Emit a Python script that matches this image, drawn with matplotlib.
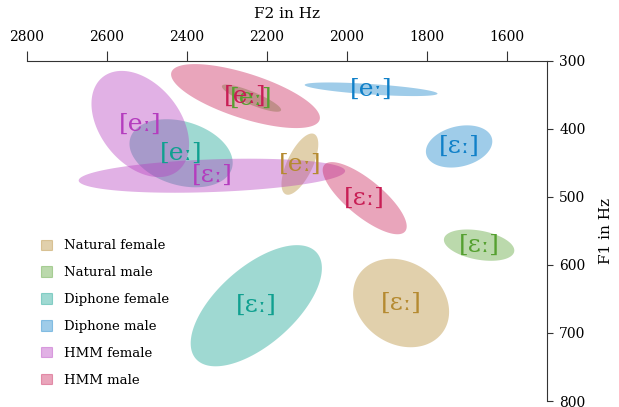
import matplotlib
matplotlib.use('Agg')
import matplotlib.pyplot as plt
from matplotlib.patches import Patch
import numpy as np

plt.rcParams['font.family'] = ['DejaVu Serif', 'DejaVu Sans']

# speaker groups and their colours
groups = ['Natural female', 'Natural male', 'Diphone female', 'Diphone male', 'HMM female', 'HMM male']
colors = ['#b58a30', '#55a030', '#10a090', '#1080c8', '#b43cbe', '#c81e55']

# [eː]: mean F2, mean F1, spread in F2 / F1, F2-F1 correlation
e_f2 = [2117, 2238, 2414, 1939, 2516, 2253]
e_f1 = [452, 355, 436, 342, 393, 352]
e_sd2 = [46, 74, 129, 166, 122, 186]
e_sd1 = [45, 20, 50, 10, 78, 47]
e_rho = [0.65, -0.86, -0.28, -0.64, -0.38, -0.68]

# [ɛː]
eps_f2 = [1864, 1669, 2226, 1719, 2337, 1955]
eps_f1 = [656, 571, 660, 426, 469, 502]
eps_sd2 = [120, 88, 164, 83, 333, 105]
eps_sd1 = [65, 23, 89, 31, 25, 53]
eps_rho = [-0.2, -0.34, 0.62, 0.24, 0.28, -0.78]

vowels = ['[eː]', '[ɛː]']


def ellipse(ax, f2, f1, sd2, sd1, rho, color, label):
    t = np.linspace(0, 2 * np.pi, 200)
    x = f2 + sd2 * np.cos(t)
    y = f1 + sd1 * (rho * np.cos(t) + np.sqrt(1 - rho ** 2) * np.sin(t))
    ax.fill(x, y, color=color, alpha=0.4, lw=0)
    ax.text(f2, f1, label, color=color, fontsize=18, ha='center', va='center')


fig = plt.figure(figsize=(6.19, 4.07), dpi=100)
ax = fig.add_axes([0.0431, 0.0147, 0.8401, 0.8362])

for i, c in enumerate(colors):
    ellipse(ax, e_f2[i], e_f1[i], e_sd2[i], e_sd1[i], e_rho[i], c, vowels[0])
    ellipse(ax, eps_f2[i], eps_f1[i], eps_sd2[i], eps_sd1[i], eps_rho[i], c, vowels[1])

ax.set_xlim(2800, 1500)
ax.set_ylim(800, 300)
ax.set_xticks([2800, 2600, 2400, 2200, 2000, 1800, 1600])
ax.set_yticks([300, 400, 500, 600, 700, 800])

for s in ['left', 'bottom']:
    ax.spines[s].set_visible(False)
for s in ['top', 'right']:
    ax.spines[s].set_color('#333333')
ax.xaxis.tick_top()
ax.yaxis.tick_right()
ax.xaxis.set_label_position('top')
ax.yaxis.set_label_position('right')
ax.tick_params(axis='x', length=7, labelsize=10, color='#333333', pad=5)
ax.tick_params(axis='y', length=4, labelsize=10, color='#333333', pad=5)
ax.set_xlabel('F2 in Hz', fontsize=11, labelpad=9)
ax.set_ylabel('F1 in Hz', fontsize=11, labelpad=10)

handles = [Patch(facecolor=c, edgecolor=c, alpha=0.4, lw=0.8) for c in colors]
ax.legend(handles, groups, loc='upper left', bbox_to_anchor=(0.027, 0.475), frameon=False,
          fontsize=9.5, handlelength=0.85, handleheight=0.85, handletextpad=0.95,
          labelspacing=1.05, borderpad=0, borderaxespad=0)

fig.savefig('out.png', dpi=100)
